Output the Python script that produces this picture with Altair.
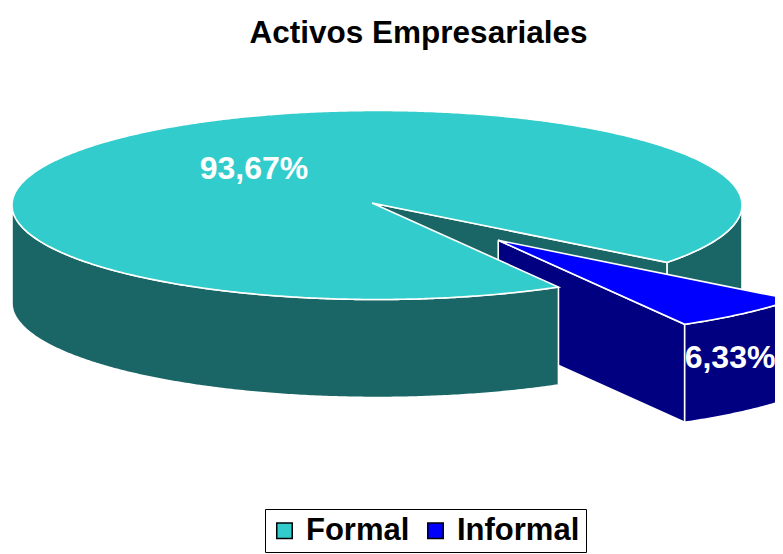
import altair as alt
import numpy as np
import pandas as pd

categories = ["Formal", "Informal"]
values = [93.67, 6.33]
labels = ["93,67%", "6,33%"]
top_colors = ["#33CCCC", "#0000FF"]
wall_colors = ["#1A6666", "#000080"]

W, H, TOP = 767, 506, 40
PX_X, PX_Y = 365.0, 94.5      # pixels per unit radius
CX, CY = 377 - 8, 205 - 48    # pie centre inside the plot area
DEPTH = 1.037
START = 37.4
EXPLODE = 0.525
APEX = np.array([-5 / PX_X, 2 / PX_Y])  # the slices meet slightly off the ellipse centre

a0 = START
a1 = a0 + 360 * values[1] / sum(values)
mid = np.radians((a0 + a1) / 2)
off = np.array([EXPLODE * np.cos(mid), -EXPLODE * np.sin(mid)])


def arc(a, b, o=(0, 0), dz=0.0):
    t = np.radians(np.linspace(a, b, max(2, int(abs(b - a) * 2))))
    return np.column_stack([np.cos(t) + o[0], -np.sin(t) + o[1] - dz])


def wall(a, b, o=(0, 0)):
    return np.vstack([arc(a, b, o), arc(a, b, o, DEPTH)[::-1]])


def radial(a, o=(0, 0)):
    c = np.array(o, dtype=float) + APEX
    p = arc(a, a, o)[0]
    return np.array([c, p, p - [0, DEPTH], c - [0, DEPTH]])


def sector(a, b, o=(0, 0)):
    return np.vstack([[np.array(o, dtype=float) + APEX], arc(a, b, o)])


xs = alt.Scale(domain=[-CX / PX_X, (W - CX) / PX_X], range=[0, W], nice=False, zero=False)
ys = alt.Scale(domain=[-(H - CY) / PX_Y, CY / PX_Y], nice=False, zero=False)
fs = alt.Scale(domain=categories, range=top_colors)


def poly(pts, color=None, serie=None):
    pts = np.vstack([pts, pts[:1]])
    df = pd.DataFrame({"x": pts[:, 0], "y": pts[:, 1], "i": range(len(pts))})
    enc = dict(
        x=alt.X("x:Q", scale=xs, axis=None),
        y=alt.Y("y:Q", scale=ys, axis=None),
        order="i:Q",
    )
    if serie is not None:
        df["serie"] = serie
        enc["fill"] = alt.Fill(
            "serie:N",
            scale=fs,
            legend=alt.Legend(
                title=None,
                orient="none",
                legendX=257,
                legendY=461,
                direction="horizontal",
                columns=2,
                symbolType="square",
                symbolSize=240,
                symbolStrokeColor="black",
                symbolStrokeWidth=1.5,
                symbolOffset=-2,
                labelFont="Liberation Sans",
                labelFontWeight="bold",
                labelFontSize=31,
                labelColor="black",
                labelOffset=6,
                strokeColor="black",
                fillColor="white",
                padding=6,
                columnPadding=12,
                labelLimit=200,
            ),
        )
    else:
        enc["fill"] = alt.value(color)
    return alt.Chart(df).mark_line(
        stroke="white", strokeWidth=1.6, clip=True, interpolate="linear"
    ).encode(**enc)


layers = [
    poly(wall(0, a0), wall_colors[0]),
    poly(radial(a0), wall_colors[0]),
    poly(radial(a1, off), wall_colors[1]),
    poly(wall(a0, a1, off), wall_colors[1]),
    poly(sector(a0, a1, off), serie=categories[1]),
    poly(wall(a1, 180), wall_colors[0]),
    poly(sector(a1, a0 + 360), serie=categories[0]),
]

label_df = pd.DataFrame(
    {
        "x": [(254 - 377) / PX_X, (730 - 377) / PX_X],
        "y": [(205 - 169) / PX_Y, (205 - 358) / PX_Y],
        "t": labels,
    }
)
text = alt.Chart(label_df).mark_text(
    font="Liberation Sans", fontWeight="bold", fontSize=32, color="white", baseline="middle"
).encode(
    x=alt.X("x:Q", scale=xs, axis=None),
    y=alt.Y("y:Q", scale=ys, axis=None),
    text="t:N",
)

chart = (
    alt.layer(*layers, text)
    .properties(
        width=W,
        height=H,
        padding={"left": 0, "top": TOP, "right": 0, "bottom": 0},
        autosize=alt.AutoSizeParams(type="none"),
        title=alt.TitleParams(
            "Activos Empresariales",
            font="Liberation Sans",
            fontWeight="bold",
            fontSize=31.5,
            color="black",
            anchor="middle",
            dx=27,
            offset=-1,
        ),
    )
    .configure_view(stroke=None)
)

chart.save("out.html", embed_options={"renderer": "svg", "actions": False})
